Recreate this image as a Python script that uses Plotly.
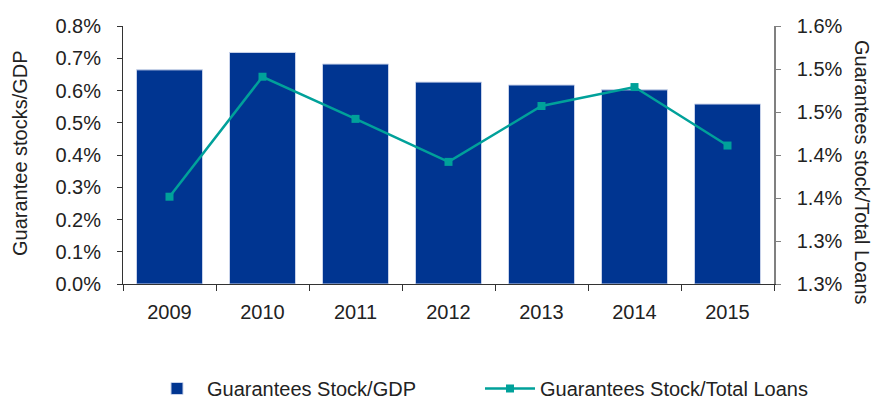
import plotly.graph_objects as go

years = ["2009", "2010", "2011", "2012", "2013", "2014", "2015"]
stock_gdp = [0.664, 0.718, 0.682, 0.626, 0.617, 0.602, 0.558]          # % of GDP
stock_loans = [1.3515, 1.491, 1.442, 1.392, 1.457, 1.479, 1.411]        # % of total loans

left_ticks = [0, 0.1, 0.2, 0.3, 0.4, 0.5, 0.6, 0.7, 0.8]
left_text = ["0.0%", "0.1%", "0.2%", "0.3%", "0.4%", "0.5%", "0.6%", "0.7%", "0.8%"]
right_ticks = [1.25, 1.30, 1.35, 1.40, 1.45, 1.50, 1.55]
right_text = ["1.3%", "1.3%", "1.4%", "1.4%", "1.5%", "1.5%", "1.6%"]

FONT = "Liberation Sans, Arial, sans-serif"
TXT = "#222222"
FS = 20

fig = go.Figure()
fig.add_trace(go.Bar(
    x=years, y=stock_gdp, name="Guarantees Stock/GDP",
    marker=dict(color="#003591", line=dict(color="#c9d3ea", width=1)),
    yaxis="y",
))
fig.add_trace(go.Scatter(
    x=years, y=stock_loans, name="Guarantees Stock/Total Loans",
    mode="lines+markers",
    line=dict(color="#00a19a", width=2.5),
    marker=dict(symbol="square", size=8, color="#00a19a"),
    yaxis="y2",
))

fig.update_layout(
    width=876, height=401,
    margin=dict(l=123, r=102, t=26, b=117, autoexpand=False),
    plot_bgcolor="white", paper_bgcolor="white",
    font=dict(family=FONT, size=FS, color=TXT),
    bargap=0.29,
    showlegend=True,
    legend=dict(
        orientation="h", x=1.0599,
        y=-0.405, xanchor="right", yanchor="middle",
        font=dict(size=FS, color=TXT), entrywidth=268, itemwidth=50,
        traceorder="normal",
    ),
    xaxis=dict(
        showline=True, linecolor="#333333", linewidth=1,
        ticks="outside", ticklen=6, tickcolor="#333333", tickson="boundaries",
        showgrid=False, ticklabelstandoff=10,
    ),
    yaxis=dict(
        range=[0, 0.8], tickvals=left_ticks, ticktext=left_text,
        showline=True, linecolor="#333333", linewidth=1,
        ticks="outside", ticklen=5, tickcolor="#333333",
        showgrid=False, zeroline=False, ticklabelstandoff=12,
    ),
    yaxis2=dict(
        range=[1.25, 1.55], tickvals=right_ticks, ticktext=right_text,
        overlaying="y", side="right",
        showline=True, linecolor="#808080", linewidth=1.5,
        ticks="outside", ticklen=5, tickcolor="#808080",
        showgrid=False, zeroline=False, ticklabelstandoff=12,
    ),
)

fig.add_annotation(
    text="Guarantee stocks/GDP", textangle=-90,
    xref="paper", yref="paper", x=(20 - 123) / 651, y=(284 - 153) / 258,
    xanchor="center", yanchor="middle", showarrow=False,
    font=dict(family=FONT, size=FS, color=TXT),
)
fig.add_annotation(
    text="Guarantees stock/Total Loans", textangle=90,
    xref="paper", yref="paper", x=1.0 + (862 - 774) / 651, y=(284 - 172) / 258,
    xanchor="center", yanchor="middle", showarrow=False,
    font=dict(family=FONT, size=FS, color=TXT),
)

fig.write_html("out.html")
